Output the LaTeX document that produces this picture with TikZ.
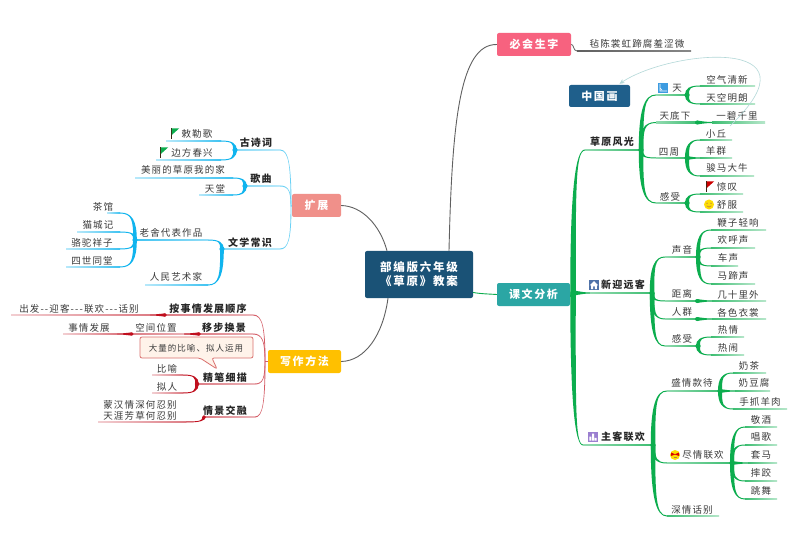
\documentclass[tikz,border=0pt]{standalone}
\usepackage{fontspec}
\usetikzlibrary{arrows.meta}
\newfontfamily\cjk[LetterSpace=12]{Noto Sans CJK SC}
\newfontfamily\cjkw[LetterSpace=15]{Noto Sans CJK SC}
\definecolor{grn}{HTML}{0CAD4E}
\definecolor{sky}{HTML}{10B4EE}
\definecolor{rd}{HTML}{C00F1E}
\colorlet{skyl}{sky!62}
\colorlet{rdl}{rd!68}
\definecolor{txtc}{HTML}{3A3A3A}
\definecolor{grayl}{HTML}{606060}
\definecolor{HeadBlue}{HTML}{1A5276}
\definecolor{PinkTop}{HTML}{F7627F}
\definecolor{TealTop}{HTML}{2BA6A4}
\definecolor{SalmonTop}{HTML}{F0908A}
\definecolor{GoldTop}{HTML}{FFC000}
\definecolor{CnBlue}{HTML}{1F5F8B}
\definecolor{LinkTeal}{HTML}{B3D8D8}
\definecolor{IconBlue}{HTML}{3D9BE0}
\definecolor{HouseBlue}{HTML}{4F72A8}
\definecolor{IconPurple}{HTML}{9B7FD0}
\definecolor{CalloutEdge}{HTML}{D9706E}
\definecolor{CalloutFill}{HTML}{FFF3EA}
\tikzset{
 txt/.style={font=\cjk\fontsize{9.5}{11}\selectfont,text=txtc,inner sep=0pt,align=center},
 bld/.style={font=\cjk\bfseries\fontsize{10}{11}\selectfont,text=black!85,inner sep=0pt},
 topbox/.style={font=\cjkw\bfseries\fontsize{11}{14}\selectfont,text=white,rounded corners=2pt,inner sep=0pt,align=center},
 rootlink/.style={line width=.9pt},
}
\def\cc{grn}\def\tw{4}\def\ct{grn}
\newcommand\mytaper[2]{%
 \path (#1);\pgfgetlastxy{\mAx}{\mAy};\path (#2);\pgfgetlastxy{\mBx}{\mBy};
 \pgfmathsetmacro\mDx{\mBx-\mAx}\pgfmathsetmacro\mDy{\mBy-\mAy}
 \pgfmathsetmacro\mSx{\mDx<0?-1:1}\pgfmathsetmacro\mSy{\mDy<0?-1:1}
 \pgfmathsetmacro\mFlat{abs(\mDy)<3.5?1:0}
 \ifdim\mFlat pt>0.5pt
  \pgfmathsetmacro\mA{\mAx+0.4*\mDx}\pgfmathsetmacro\mB{\mBx-0.3*\mDx}
  \pgfmathsetmacro\mU{\mAy+\tw/2}\pgfmathsetmacro\mV{\mAy-\tw/2}
  \pgfmathsetmacro\mUb{\mAy+\tw/4}\pgfmathsetmacro\mVb{\mAy-\tw/4}
  \pgfmathsetmacro\mP{\mBy+0.5}\pgfmathsetmacro\mQ{\mBy-0.5}
  \fill[\ct] (\mAx,\mU pt) .. controls (\mA pt,\mUb pt) and (\mB pt,\mP pt) .. (\mBx,\mP pt) -- (\mBx,\mQ pt) .. controls (\mB pt,\mQ pt) and (\mA pt,\mVb pt) .. (\mAx,\mV pt) -- cycle;
 \else
  \pgfmathsetmacro\mO{\mAx-\mSx*\tw/2}\pgfmathsetmacro\mI{\mAx+\mSx*\tw/2}
  \pgfmathsetmacro\mC{\mAy+0.72*\mDy}
  \pgfmathsetmacro\mE{\mAx+0.2*\mDx}
  \pgfmathsetmacro\mP{\mBy+\mSy*0.5}\pgfmathsetmacro\mQ{\mBy-\mSy*0.5}
  \fill[\ct] (\mO pt,\mAy) .. controls (\mO pt,\mC pt) and (\mE pt,\mP pt) .. (\mBx,\mP pt) -- (\mBx,\mQ pt) .. controls (\mE pt,\mQ pt) and (\mI pt,\mC pt) .. (\mI pt,\mAy) -- cycle;
 \fi
}
% fading underline: #3 colour at start, #4 colour at end
\newcommand\myrule[4]{%
 \path (#1);\pgfgetlastxy{\mAx}{\mAy};\path (#2);\pgfgetlastxy{\mBx}{\mBy};
 \pgfmathsetmacro\mP{\mAy+0.55}\pgfmathsetmacro\mQ{\mAy-0.55}
 \ifdim\mAx<\mBx
  \shade[left color=#3,right color=#4] (\mAx,\mQ pt) rectangle (\mBx,\mP pt);
 \else
  \shade[left color=#4,right color=#3] (\mBx,\mQ pt) rectangle (\mAx,\mP pt);
 \fi
}
\newcommand\lfnode[9][txt]{%
 \coordinate (#2-s) at (#4,#6);\coordinate (#2-e) at (#5,#6);
 \mytaper{#3}{#2-s}\myrule{#2-s}{#2-e}{\cc!80}{\cc!30}
 \node[#1] (#2) at (#7,#8) {#9};
}
\newcommand\tpnode[9][txt]{%
 \coordinate (#2-s) at (#4,#6);\coordinate (#2-e) at (#5,#6);
 \mytaper{#3}{#2-s}\myrule{#2-s}{#2-e}{\cc!45}{\cc!80}
 \node[#1] (#2) at (#7,#8) {#9};
}
\newcommand\jdot[2][2.6pt]{\fill[\cc] (#2) circle (#1);}
\newcommand\flagicon[3]{\begin{scope}[shift={(#1,#2)}]
 \draw[line width=.8pt,color=black!70!brown] (-2.5,-5.5)--(-2.5,5);
 \fill[#3] (-2.2,-5.5)--(5,-5.5)--(-2.2,1)--cycle;\end{scope}}
\newcommand\smileicon[2]{\begin{scope}[shift={(#1,#2)}]
 \fill[yellow!80!orange] (0,0) circle (5pt);
 \fill[brown] (-2,-1.2) circle (.7pt) (2,-1.2) circle (.7pt);
 \draw[brown,line width=.6pt] (-2.4,1.3) .. controls (-1,3) and (1,3) .. (2.4,1.3);\end{scope}}
\newcommand\partyicon[2]{\begin{scope}[shift={(#1,#2)}]
 \fill[yellow!80!orange] (0,0) circle (5pt);
 \fill[red!85!black] (-4,-2.5)--(0,-.8)--(4,-2.5)--(4,1)--(0,-.5)--(-4,1)--cycle;
 \draw[brown,line width=.6pt] (-1.5,2.7)--(1.5,2.7);\end{scope}}
\begin{document}
\begin{tikzpicture}[x=1pt,y=-1pt]
\path[fill=white,use as bounding box] (0,0) rectangle (800,537);
% main boxes
\node[topbox,fill=HeadBlue,minimum width=108pt,minimum height=47pt,font=\cjkw\bfseries\fontsize{11.5}{14}\selectfont] (ctr) at (419,274.5) {部编版六年级\\《草原》教案};
\node[topbox,fill=PinkTop,minimum width=74pt,minimum height=23pt] (bh) at (534,44.5) {必会生字};
\node[topbox,fill=TealTop,minimum width=73pt,minimum height=23pt] (kw) at (533.5,294.5) {课文分析};
\node[topbox,fill=SalmonTop,minimum width=49pt,minimum height=23pt] (kz) at (316.5,205.5) {扩展};
\node[topbox,fill=GoldTop,minimum width=73pt,minimum height=23pt] (xz) at (304.5,361.5) {写作方法};
\node[topbox,fill=CnBlue,minimum width=61pt,minimum height=22pt] (zgh) at (599.5,96) {中国画};
% root links
\draw[rootlink,grayl] ([xshift=30pt]ctr.north) .. controls (452,120) and (460,44) .. (bh.west);
\draw[rootlink,grayl] ([xshift=-32pt]ctr.north) .. controls (380,225) and (362,206) .. (kz.east);
\draw[rootlink,grayl] ([xshift=-31pt]ctr.south) .. controls (383,335) and (365,361) .. (xz.east);
\draw[rootlink,grn] ([yshift=-18pt]ctr.east) .. controls (482,294) and (490,294) .. (kw.west);
% must-know characters
\coordinate (bz-s) at (577,51);\coordinate (bz-e) at (691,51);
\draw[line width=.8pt,grayl] (bh.east) .. controls (574,44) and (573,51) .. (bz-s);
\myrule{bz-s}{bz-e}{grayl}{grayl!75}
\node[txt] (bz) at (637,44) {毡陈裳虹蹄腐羞涩微};
% green map
\def\cc{grn}\def\ct{grn}
\coordinate (rr) at (573,293);\fill[\cc] (kw.east)--(578,293)--(570,297)--cycle;\jdot[2.8pt]{rr}
\def\tw{5.5}
\tpnode[bld]{cy}{rr}{585}{641}{150}{612}{142}{草原风光}
\tpnode[bld]{xy}{rr}{590}{652}{293}{623}{285}{新迎远客}
\tpnode[bld]{zk}{rr}{583}{653}{445}{623}{437}{主客联欢}
\def\tw{4.5}
\jdot{cy-e}\jdot{xy-e}\jdot{zk-e}
\tpnode{tian}{cy-e}{656}{687}{95}{677}{88}{天}
\tpnode{tdx}{cy-e}{656}{697}{122.5}{675}{116}{天底下}
\tpnode{sz}{cy-e}{656}{687}{158}{669}{152}{四周}
\tpnode{gs}{cy-e}{656}{687}{203}{670}{197}{感受}
\tpnode{sy}{xy-e}{665}{698}{257}{682}{250}{声音}
\tpnode{jl}{xy-e}{665}{697}{301}{682}{294}{距离}
\tpnode{rq}{xy-e}{665}{697}{319}{682}{312}{人群}
\tpnode{gt}{xy-e}{665}{698}{346}{682}{339}{感受}
\tpnode{sq}{zk-e}{667}{720}{391}{692}{383}{盛情款待}
\tpnode{jq}{zk-e}{667}{732}{463}{703}{455}{尽情联欢}
\lfnode{qb}{zk-e}{667}{719}{516}{692}{510}{深情话别}
\def\tw{4}
\jdot{tian-e}\jdot{sz-e}\jdot{gs-e}\jdot{sy-e}\jdot{gt-e}\jdot{sq-e}\jdot{jq-e}\jdot[2pt]{tdx-e}\jdot[2pt]{jl-e}\jdot[2pt]{rq-e}
\lfnode{kq}{tian-e}{700}{755}{86}{727}{80}{空气清新}
\lfnode{tk}{tian-e}{700}{755}{104}{727}{98}{天空明朗}
\lfnode{yb}{tdx-e}{712}{765}{122.5}{737}{116}{一碧千里}
\lfnode{xq}{sz-e}{700}{732}{140}{716}{134}{小丘}
\lfnode{yq}{sz-e}{700}{732}{158}{716}{151}{羊群}
\lfnode{jm}{sz-e}{700}{754}{176}{727}{168}{骏马大牛}
\lfnode{jt}{gs-e}{700}{743}{194}{727}{187}{惊叹}
\lfnode{sf}{gs-e}{700}{743}{212}{727}{205}{舒服}
\lfnode{bz1}{sy-e}{711}{766}{230}{738}{223}{鞭子轻响}
\lfnode{hh}{sy-e}{711}{755}{248}{733}{240}{欢呼声}
\lfnode{cs}{sy-e}{711}{738}{266}{728}{258}{车声}
\lfnode{mt}{sy-e}{711}{755}{284}{733}{276}{马蹄声}
\lfnode{js}{jl-e}{712}{766}{301}{738}{295}{几十里外}
\lfnode{gc}{rq-e}{712}{766}{319}{738}{313}{各色衣裳}
\lfnode{rq1}{gt-e}{711}{744}{337}{728}{330}{热情}
\lfnode{rn}{gt-e}{711}{744}{355}{728}{348}{热闹}
\lfnode{nc}{sq-e}{733}{766}{373}{749}{366}{奶茶}
\lfnode{nd}{sq-e}{735}{770}{391}{754}{383}{奶豆腐}
\lfnode{sz1}{sq-e}{733}{787}{409}{760}{402}{手抓羊肉}
\lfnode{jj}{jq-e}{745}{777}{427}{761}{420}{敬酒}
\lfnode{cg}{jq-e}{745}{777}{445}{761}{437}{唱歌}
\lfnode{tm}{jq-e}{748}{777}{463}{761}{455}{套马}
\lfnode{sj}{jq-e}{745}{777}{481}{761}{473}{摔跤}
\lfnode{tw1}{jq-e}{745}{777}{499}{761}{491}{跳舞}
% cross link
\coordinate (xl) at (730,126);
\draw[line width=.6pt,color=LinkTeal,-{Stealth[length=5pt,width=4.5pt]}] (xl) .. controls (825,35) and (670,50) .. ([xshift=20pt,yshift=1pt]zgh.north);
% icons right
\begin{scope}[shift={(663,88)}]\fill[IconBlue] (-5,-5) rectangle (5,5);\draw[white,line width=.6pt] (-3,-4)--(-3,3)--(4,3) (-3,0)--(-1,2);\end{scope}
\flagicon{709}{187}{red!80!black}
\smileicon{709}{204.5}
\begin{scope}[shift={(594,285)}]\fill[HouseBlue] (-5.3,-5.3) rectangle (5.3,5.3);\fill[white] (0,-4)--(4.2,0.3)--(2.8,0.3)--(2.8,4)--(.8,4)--(.8,1.3)--(-.8,1.3)--(-.8,4)--(-2.8,4)--(-2.8,0.3)--(-4.2,0.3)--cycle;\end{scope}
\begin{scope}[shift={(593,437)}]\fill[IconPurple] (-5.3,-5.3) rectangle (5.3,5.3);\fill[white] (-3.6,-.5) rectangle (-1.6,3.5) (-1,-3.5) rectangle (1,3.5) (1.6,.8) rectangle (3.6,3.5);\end{scope}
\partyicon{675}{455}
% blue map
\def\cc{skyl}\def\ct{skyl}
\coordinate (rb) at (291,206.5);
\draw[skyl,line width=.8pt] (kz.west)--(rb);
\def\tw{.9}
\tpnode[bld]{gsc}{rb}{280}{235}{150}{256}{143}{古诗词}
\tpnode[bld]{gq}{rb}{280}{245}{186}{261}{179}{歌曲}
\tpnode[bld]{wx}{rb}{280}{222}{249}{250}{243}{文学常识}
\def\cc{sky}\def\ct{sky}
\def\tw{3.6}
\jdot{gsc-e}\jdot{gq-e}\jdot{wx-e}
\lfnode{cl}{gsc-e}{221}{166}{141}{197}{134}{敕勒歌}
\lfnode{bf}{gsc-e}{221}{156}{160}{192}{153}{边方春兴}
\lfnode{ml}{gq-e}{233}{135}{178}{183}{170}{美丽的草原我的家}
\lfnode{tt}{gq-e}{233}{199}{195}{215}{189}{天堂}
\tpnode{ls}{wx-e}{208}{135}{240}{171}{233}{老舍代表作品}
\lfnode{rm}{wx-e}{208}{145}{285}{176}{277}{人民艺术家}
\jdot{ls-e}
\lfnode{cg1}{ls-e}{120}{107}{213}{103}{207}{茶馆}
\lfnode{mc}{ls-e}{120}{77}{232}{98}{225}{猫城记}
\lfnode{lt}{ls-e}{120}{66}{249}{92}{243}{骆驼祥子}
\lfnode{ss}{ls-e}{120}{66}{267}{92}{261}{四世同堂}
\flagicon{174}{134}{grn}
\flagicon{163}{153}{grn}
% red map
\def\cc{rdl}\def\ct{rdl}
\coordinate (rw) at (265,361.5);
\draw[rdl,line width=.8pt] (xz.west)--(rw);
\def\tw{.9}
\tpnode[bld]{aj}{rw}{253}{165}{315}{208}{309}{按事情发展顺序}
\tpnode[bld]{yj}{rw}{253}{199}{334}{224}{328}{移步换景}
\tpnode[bld]{jb}{rw}{255}{197}{384}{225}{378}{精笔细描}
\tpnode[bld]{qj}{rw}{255}{204}{417}{225}{411}{情景交融}
\def\ct{rd}
\def\cc{rd}
\jdot[1.8pt]{aj-e}\jdot[1.8pt]{yj-e}\jdot[2.2pt]{jb-e}\jdot[1.8pt]{qj-e}
\def\cc{rdl}
\def\tw{3.4}
\lfnode{cf}{aj-e}{150}{11}{315}{79}{309}{出发--迎客---联欢---话别}
\tpnode{kj}{yj-e}{184}{132}{334}{156}{328}{空间位置}
\def\cc{rd}\jdot[1.6pt]{kj-e}\def\cc{rdl}
\lfnode{sq1}{kj-e}{117}{63}{334}{89}{328}{事情发展}
\lfnode{by}{jb-e}{183}{152}{375}{167}{369}{比喻}
\lfnode{nr}{jb-e}{183}{152}{393}{167}{387}{拟人}
\lfnode[txt]{mh}{qj-e}{186}{98}{422}{140}{410.5}{蒙汉情深何忍别\\天涯芳草何忍别}
% callout
\draw[CalloutEdge,fill=CalloutFill,line width=.8pt,rounded corners=2pt] (140,337) -- (253,337) -- (253,358) -- (212,358) -- (217,369) -- (200,358) -- (140,358) -- cycle;
\node[txt,font=\cjk\fontsize{8.5}{10}\selectfont] (hy) at (196,348) {大量的比喻、拟人运用};
\end{tikzpicture}
\end{document}
